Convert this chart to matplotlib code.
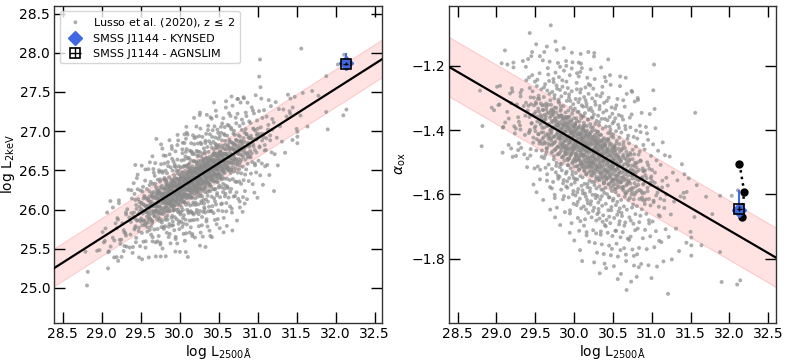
import numpy as np
import matplotlib
matplotlib.use("Agg")
import matplotlib.pyplot as plt

# ---------------- data ----------------
# Lusso et al. (2020) sample, z <= 2 : log L2500 and alpha_ox (estimated from the right panel)
lusso_luv = [
    28.79, 28.81, 28.82, 28.94, 28.97, 29.01, 29.04, 29.08, 29.09, 29.11, 29.14, 29.16, 29.19, 29.21,
    29.22, 29.20, 29.23, 29.25, 29.31, 29.29, 29.31, 29.29, 29.28, 29.38, 29.42, 29.43, 29.46, 29.45,
    29.56, 29.57, 29.40, 29.65, 29.70, 29.76, 29.82, 29.90, 29.97, 30.06, 30.08, 30.26, 30.44, 30.41,
    30.74, 31.02, 31.03, 30.82, 31.56, 31.90, 32.10, 32.14, 31.88, 31.64, 31.51, 31.51, 31.51, 31.50,
    31.21, 31.70, 31.88, 32.03, 31.78, 32.11, 31.42, 31.58, 31.55, 31.45, 31.41,
    29.047, 29.083, 29.026, 29.068,
    29.113, 29.176, 29.142, 29.158, 29.191,
    29.207, 29.238, 29.264, 29.219, 29.281, 29.253,
    29.304, 29.327, 29.319, 29.352, 29.341, 29.368, 29.386, 29.373, 29.395, 29.312, 29.359, 29.381,
    29.403, 29.418, 29.429, 29.437, 29.446, 29.452, 29.461, 29.474, 29.483, 29.491,
    29.409, 29.425, 29.441, 29.466, 29.478, 29.497, 29.433, 29.488,
    29.502, 29.508, 29.514, 29.521, 29.527, 29.533, 29.538, 29.544, 29.549, 29.556,
    29.561, 29.567, 29.572, 29.578, 29.583, 29.589, 29.594, 29.598, 29.505, 29.517,
    29.529, 29.541, 29.553, 29.564, 29.575, 29.586, 29.512, 29.591,
    29.601, 29.606, 29.611, 29.615, 29.619, 29.624, 29.628, 29.633, 29.637, 29.642,
    29.646, 29.651, 29.655, 29.659, 29.664, 29.668, 29.673, 29.677, 29.682, 29.686,
    29.691, 29.695, 29.699, 29.603, 29.613, 29.622, 29.631, 29.644, 29.653, 29.662,
    29.671, 29.684, 29.693, 29.617, 29.648, 29.679,
    29.702, 29.705, 29.709, 29.712, 29.716, 29.719, 29.723, 29.726, 29.730, 29.733,
    29.737, 29.740, 29.744, 29.747, 29.751, 29.754, 29.758, 29.761, 29.765, 29.768,
    29.772, 29.775, 29.779, 29.782, 29.786, 29.789, 29.793, 29.796, 29.799, 29.707,
    29.714, 29.721, 29.735, 29.742, 29.749, 29.756, 29.763, 29.770, 29.777, 29.784,
    29.791, 29.728, 29.752, 29.774,
    29.801, 29.804, 29.807, 29.810, 29.813, 29.816, 29.819, 29.822, 29.825, 29.828,
    29.831, 29.834, 29.837, 29.840, 29.843, 29.846, 29.849, 29.852, 29.855, 29.858,
    29.861, 29.864, 29.867, 29.870, 29.873, 29.876, 29.879, 29.882, 29.885, 29.888,
    29.891, 29.894, 29.897, 29.899, 29.803, 29.812, 29.821, 29.833, 29.842, 29.851,
    29.862, 29.871, 29.883, 29.892, 29.806, 29.818, 29.829, 29.847, 29.859, 29.868,
    29.877, 29.889,
    29.900, 29.903, 29.905, 29.908, 29.910, 29.913, 29.915, 29.918, 29.920, 29.923,
    29.925, 29.928, 29.930, 29.933, 29.935, 29.938, 29.940, 29.943, 29.945, 29.948,
    29.950, 29.953, 29.955, 29.958, 29.960, 29.963, 29.965, 29.968, 29.970, 29.973,
    29.975, 29.978, 29.980, 29.983, 29.985, 29.988, 29.990, 29.993, 29.995, 29.998,
    29.902, 29.911, 29.922, 29.931, 29.944, 29.952, 29.961, 29.972, 29.981, 29.992,
    29.907, 29.919, 29.936, 29.947, 29.966, 29.977, 29.986, 29.997,
    30.001, 30.004, 30.006, 30.009, 30.011, 30.014, 30.016, 30.019, 30.021, 30.024,
    30.026, 30.029, 30.031, 30.034, 30.036, 30.039, 30.041, 30.044, 30.046, 30.049,
    30.051, 30.054, 30.056, 30.059, 30.061, 30.064, 30.066, 30.069, 30.071, 30.074,
    30.076, 30.079, 30.081, 30.084, 30.086, 30.089, 30.091, 30.094, 30.096, 30.099,
    30.003, 30.012, 30.022, 30.033, 30.042, 30.053, 30.062, 30.073, 30.082, 30.093,
    30.007, 30.017, 30.028, 30.038, 30.048, 30.058, 30.068, 30.078, 30.088, 30.098,
    30.045, 30.085,
    30.102, 30.105, 30.107, 30.110, 30.112, 30.115, 30.117, 30.120, 30.122, 30.125,
    30.127, 30.130, 30.132, 30.135, 30.137, 30.140, 30.142, 30.145, 30.147, 30.150,
    30.152, 30.155, 30.157, 30.160, 30.162, 30.165, 30.167, 30.170, 30.172, 30.175,
    30.177, 30.180, 30.182, 30.185, 30.187, 30.190, 30.192, 30.195, 30.197, 30.199,
    30.101, 30.109, 30.118, 30.128, 30.139, 30.148, 30.158, 30.168, 30.179, 30.188,
    30.104, 30.114, 30.124, 30.134, 30.144, 30.154, 30.164, 30.174, 30.184, 30.194,
    30.121, 30.141, 30.161, 30.181,
    30.201, 30.203, 30.206, 30.208, 30.211, 30.213, 30.216, 30.218, 30.221, 30.223,
    30.226, 30.228, 30.231, 30.233, 30.236, 30.238, 30.241, 30.243, 30.246, 30.248,
    30.251, 30.253, 30.256, 30.258, 30.261, 30.263, 30.266, 30.268, 30.271, 30.273,
    30.276, 30.278, 30.281, 30.283, 30.286, 30.288, 30.291, 30.293, 30.296, 30.298,
    30.205, 30.214, 30.224, 30.234, 30.244, 30.254, 30.264, 30.274, 30.284, 30.294,
    30.209, 30.219, 30.229, 30.239, 30.249, 30.259, 30.269, 30.279, 30.289, 30.299,
    30.217, 30.237, 30.257, 30.277,
    30.300, 30.302, 30.305, 30.307, 30.310, 30.312, 30.315, 30.317, 30.320, 30.322,
    30.325, 30.327, 30.330, 30.332, 30.335, 30.337, 30.340, 30.342, 30.345, 30.347,
    30.350, 30.352, 30.355, 30.357, 30.360, 30.362, 30.365, 30.367, 30.370, 30.372,
    30.375, 30.377, 30.380, 30.382, 30.385, 30.387, 30.390, 30.392, 30.395, 30.397,
    30.304, 30.313, 30.323, 30.333, 30.343, 30.353, 30.363, 30.373, 30.383, 30.393,
    30.308, 30.318, 30.328, 30.338, 30.348, 30.358, 30.368, 30.378, 30.388, 30.398,
    30.331, 30.361,
    30.401, 30.404, 30.406, 30.409, 30.411, 30.414, 30.416, 30.419, 30.421, 30.424,
    30.426, 30.429, 30.431, 30.434, 30.436, 30.439, 30.441, 30.444, 30.446, 30.449,
    30.451, 30.454, 30.456, 30.459, 30.461, 30.464, 30.466, 30.469, 30.471, 30.474,
    30.476, 30.479, 30.481, 30.484, 30.486, 30.489, 30.491, 30.494, 30.496, 30.499,
    30.403, 30.413, 30.423, 30.433, 30.443, 30.453, 30.463, 30.473, 30.483, 30.493,
    30.408, 30.428, 30.448, 30.468, 30.488, 30.418, 30.458, 30.478,
    30.502, 30.505, 30.508, 30.511, 30.514, 30.517, 30.520, 30.523, 30.526, 30.529,
    30.532, 30.535, 30.538, 30.541, 30.544, 30.547, 30.550, 30.553, 30.556, 30.559,
    30.562, 30.565, 30.568, 30.571, 30.574, 30.577, 30.580, 30.583, 30.586, 30.589,
    30.592, 30.595, 30.598, 30.503, 30.513, 30.524, 30.536, 30.545, 30.557, 30.566,
    30.578, 30.587, 30.597, 30.509, 30.531, 30.552, 30.573, 30.594, 30.519, 30.541,
    30.563, 30.584,
    30.602, 30.606, 30.609, 30.613, 30.617, 30.620, 30.624, 30.627, 30.631, 30.635,
    30.638, 30.642, 30.645, 30.649, 30.652, 30.656, 30.660, 30.663, 30.667, 30.670,
    30.674, 30.678, 30.681, 30.685, 30.688, 30.692, 30.695, 30.699, 30.604, 30.615,
    30.626, 30.637, 30.647, 30.658, 30.668, 30.679, 30.690, 30.611, 30.633, 30.654,
    30.676, 30.697, 30.622, 30.665,
    30.703, 30.707, 30.712, 30.716, 30.720, 30.725, 30.729, 30.733, 30.738, 30.742,
    30.746, 30.751, 30.755, 30.759, 30.764, 30.768, 30.772, 30.777, 30.781, 30.785,
    30.790, 30.794, 30.798, 30.709, 30.722, 30.735, 30.748, 30.761, 30.774, 30.787,
    30.718, 30.744, 30.770, 30.796, 30.731, 30.757,
    30.804, 30.809, 30.815, 30.820, 30.826, 30.831, 30.837, 30.842, 30.848, 30.853,
    30.859, 30.864, 30.870, 30.875, 30.881, 30.886, 30.892, 30.897, 30.807, 30.823,
    30.839, 30.856, 30.872, 30.889, 30.812, 30.846, 30.878, 30.834,
    30.903, 30.908, 30.914, 30.919, 30.925, 30.931, 30.936, 30.942, 30.947, 30.953,
    30.958, 30.964, 30.969, 30.975, 30.981, 30.986, 30.992, 30.997, 30.911, 30.939,
    30.967, 30.989,
    31.004, 31.011, 31.018, 31.025, 31.033, 31.040, 31.047, 31.054, 31.061, 31.068,
    31.075, 31.082, 31.089, 31.096, 31.037,
    31.106, 31.115, 31.124, 31.133, 31.142, 31.151, 31.161, 31.170, 31.179, 31.188,
    31.207, 31.219, 31.232, 31.246, 31.259, 31.273, 31.288,
    31.312, 31.331, 31.352, 31.371, 31.389,
    31.418, 31.447, 31.476,
]
lusso_aox = [
    -1.277, -1.450, -1.387, -1.330, -1.338, -1.265, -1.320, -1.470, -1.390, -1.152, -1.343, -1.364, -1.457, -1.483,
    -1.205, -1.270, -1.388, -1.395, -1.398, -1.374, -1.284, -1.441, -1.462, -1.203, -1.236, -1.098, -1.157, -1.170,
    -1.170, -1.436, -1.488, -1.140, -1.074, -1.124, -1.203, -1.200, -1.208, -1.190, -1.219, -1.160, -1.180, -1.248,
    -1.278, -1.276, -1.196, -1.300, -1.346, -1.872, -1.880, -1.867, -1.779, -1.758, -1.758, -1.790, -1.734, -1.716,
    -1.909, -1.607, -1.604, -1.604, -1.661, -1.587, -1.537, -1.571, -1.670, -1.592, -1.595,
    -1.262, -1.392, -1.322, -1.192,
    -1.376, -1.286, -1.196, -1.446, -1.316,
    -1.280, -1.410, -1.320, -1.190, -1.360, -1.480,
    -1.385, -1.275, -1.455, -1.325, -1.185, -1.415, -1.245, -1.355, -1.515, -1.295, -1.475, -1.315,
    -1.339, -1.409, -1.269, -1.479, -1.319, -1.379, -1.229, -1.439, -1.299, -1.519,
    -1.179, -1.359, -1.459, -1.279, -1.569, -1.249, -1.399, -1.349,
    -1.403, -1.313, -1.463, -1.263, -1.373, -1.513, -1.333, -1.293, -1.433, -1.223,
    -1.553, -1.353, -1.383, -1.273, -1.483, -1.323, -1.443, -1.183, -1.343, -1.593,
    -1.243, -1.413, -1.303, -1.523, -1.363, -1.463, -1.133, -1.393,
    -1.337, -1.407, -1.297, -1.487, -1.377, -1.437, -1.257, -1.517, -1.357, -1.317,
    -1.467, -1.557, -1.277, -1.387, -1.417, -1.227, -1.507, -1.347, -1.447, -1.187,
    -1.577, -1.307, -1.397, -1.617, -1.267, -1.367, -1.477, -1.327, -1.537, -1.207,
    -1.427, -1.287, -1.647, -1.157, -1.457, -1.247,
    -1.411, -1.321, -1.471, -1.371, -1.521, -1.281, -1.391, -1.441, -1.561, -1.341,
    -1.251, -1.491, -1.421, -1.301, -1.601, -1.361, -1.461, -1.221, -1.531, -1.381,
    -1.331, -1.501, -1.641, -1.271, -1.401, -1.451, -1.191, -1.551, -1.311, -1.431,
    -1.581, -1.351, -1.241, -1.481, -1.291, -1.671, -1.371, -1.511, -1.151, -1.411,
    -1.541, -1.341, -1.611, -1.261,
    -1.385, -1.475, -1.315, -1.425, -1.545, -1.355, -1.275, -1.505, -1.415, -1.455,
    -1.335, -1.585, -1.295, -1.395, -1.525, -1.445, -1.245, -1.365, -1.485, -1.615,
    -1.405, -1.325, -1.555, -1.215, -1.435, -1.495, -1.375, -1.655, -1.285, -1.465,
    -1.345, -1.535, -1.185, -1.575, -1.305, -1.425, -1.695, -1.355, -1.505, -1.265,
    -1.385, -1.605, -1.405, -1.475, -1.235, -1.515, -1.325, -1.445, -1.565, -1.145,
    -1.455, -1.365,
    -1.449, -1.359, -1.529, -1.309, -1.419, -1.489, -1.579, -1.389, -1.269, -1.459,
    -1.509, -1.339, -1.609, -1.429, -1.299, -1.549, -1.379, -1.439, -1.229, -1.649,
    -1.399, -1.479, -1.519, -1.329, -1.369, -1.569, -1.409, -1.689, -1.279, -1.469,
    -1.349, -1.539, -1.189, -1.499, -1.599, -1.419, -1.319, -1.449, -1.629, -1.389,
    -1.249, -1.559, -1.359, -1.489, -1.719, -1.309, -1.429, -1.159, -1.529, -1.589,
    -1.379, -1.509, -1.289, -1.659, -1.409, -1.459, -1.339, -1.549,
    -1.403, -1.513, -1.433, -1.563, -1.333, -1.383, -1.473, -1.603, -1.303, -1.533,
    -1.443, -1.363, -1.493, -1.633, -1.273, -1.423, -1.553, -1.343, -1.453, -1.673,
    -1.393, -1.583, -1.313, -1.483, -1.233, -1.523, -1.713, -1.373, -1.413, -1.613,
    -1.463, -1.283, -1.543, -1.353, -1.503, -1.193, -1.643, -1.433, -1.573, -1.323,
    -1.743, -1.383, -1.483, -1.253, -1.593, -1.413, -1.523, -1.303, -1.683, -1.363,
    -1.453, -1.553, -1.403, -1.223, -1.623, -1.343, -1.493, -1.773, -1.273, -1.423,
    -1.513, -1.163,
    -1.507, -1.427, -1.357, -1.547, -1.457, -1.597, -1.327, -1.397, -1.477, -1.637,
    -1.377, -1.297, -1.527, -1.567, -1.437, -1.347, -1.677, -1.497, -1.267, -1.407,
    -1.607, -1.447, -1.537, -1.317, -1.717, -1.387, -1.467, -1.237, -1.577, -1.417,
    -1.627, -1.367, -1.487, -1.657, -1.287, -1.517, -1.337, -1.747, -1.427, -1.557,
    -1.207, -1.587, -1.397, -1.697, -1.457, -1.307, -1.537, -1.617, -1.367, -1.257,
    -1.807, -1.477, -1.357, -1.517, -1.417, -1.647, -1.327, -1.567, -1.157, -1.497,
    -1.387, -1.597, -1.727, -1.447,
    -1.411, -1.511, -1.581, -1.381, -1.461, -1.631, -1.331, -1.541, -1.441, -1.481,
    -1.671, -1.361, -1.561, -1.301, -1.421, -1.601, -1.501, -1.391, -1.711, -1.271,
    -1.471, -1.531, -1.351, -1.641, -1.431, -1.571, -1.241, -1.751, -1.401, -1.491,
    -1.321, -1.611, -1.451, -1.551, -1.681, -1.371, -1.291, -1.521, -1.781, -1.411,
    -1.591, -1.211, -1.511, -1.341, -1.651, -1.461, -1.561, -1.381, -1.721, -1.441,
    -1.261, -1.621, -1.531, -1.361, -1.481, -1.811, -1.311, -1.431, -1.581, -1.661,
    -1.391, -1.501, -1.171, -1.601,
    -1.515, -1.405, -1.605, -1.465, -1.355, -1.555, -1.645, -1.435, -1.485, -1.385,
    -1.575, -1.675, -1.325, -1.505, -1.445, -1.615, -1.295, -1.535, -1.715, -1.415,
    -1.475, -1.585, -1.365, -1.755, -1.455, -1.635, -1.265, -1.545, -1.395, -1.495,
    -1.665, -1.345, -1.565, -1.785, -1.425, -1.315, -1.595, -1.525, -1.235, -1.695,
    -1.465, -1.625, -1.375, -1.555, -1.725, -1.435, -1.285, -1.585, -1.495, -1.815,
    -1.405, -1.655, -1.335, -1.515, -1.205, -1.605, -1.685, -1.445, -1.565, -1.365,
    -1.845, -1.475,
    -1.449, -1.579, -1.489, -1.629, -1.389, -1.529, -1.339, -1.679, -1.429, -1.549,
    -1.599, -1.469, -1.369, -1.719, -1.499, -1.409, -1.649, -1.509, -1.299, -1.569,
    -1.759, -1.439, -1.609, -1.359, -1.539, -1.479, -1.689, -1.399, -1.259, -1.789,
    -1.519, -1.419, -1.639, -1.329, -1.559, -1.589, -1.459, -1.729, -1.379, -1.619,
    -1.489, -1.829, -1.309, -1.529, -1.429, -1.669, -1.229, -1.579, -1.509, -1.349,
    -1.699, -1.459, -1.609, -1.409, -1.769, -1.549, -1.389, -1.649,
    -1.553, -1.423, -1.613, -1.493, -1.373, -1.673, -1.523, -1.453, -1.583, -1.333,
    -1.713, -1.473, -1.633, -1.403, -1.543, -1.753, -1.433, -1.503, -1.663, -1.303,
    -1.573, -1.793, -1.383, -1.603, -1.483, -1.353, -1.693, -1.533, -1.443, -1.643,
    -1.263, -1.563, -1.733, -1.413, -1.823, -1.463, -1.593, -1.323, -1.623, -1.513,
    -1.393, -1.683, -1.773, -1.493, -1.363, -1.553, -1.653, -1.233, -1.453, -1.713,
    -1.863, -1.423,
    -1.497, -1.617, -1.407, -1.557, -1.667, -1.457, -1.517, -1.717, -1.367, -1.587,
    -1.437, -1.637, -1.767, -1.487, -1.327, -1.537, -1.687, -1.397, -1.597, -1.807,
    -1.467, -1.287, -1.647, -1.567, -1.427, -1.737, -1.507, -1.617, -1.847, -1.357,
    -1.547, -1.447, -1.697, -1.387, -1.787, -1.527, -1.477, -1.657, -1.307, -1.607,
    -1.897, -1.417, -1.577, -1.237,
    -1.561, -1.441, -1.671, -1.491, -1.611, -1.391, -1.731, -1.521, -1.581, -1.351,
    -1.641, -1.771, -1.461, -1.531, -1.691, -1.421, -1.821, -1.601, -1.311, -1.501,
    -1.661, -1.551, -1.401, -1.741, -1.471, -1.871, -1.281, -1.631, -1.511, -1.711,
    -1.361, -1.591, -1.791, -1.451, -1.681, -1.541,
    -1.516, -1.636, -1.426, -1.706, -1.556, -1.476, -1.766, -1.586, -1.386, -1.666,
    -1.496, -1.816, -1.346, -1.616, -1.546, -1.736, -1.446, -1.566, -1.856, -1.306,
    -1.686, -1.406, -1.646, -1.526, -1.786, -1.466, -1.596, -1.826,
    -1.620, -1.460, -1.710, -1.540, -1.390, -1.660, -1.770, -1.500, -1.590, -1.430,
    -1.820, -1.680, -1.520, -1.350, -1.730, -1.570, -1.480, -1.860, -1.630, -1.410,
    -1.690, -1.550,
    -1.524, -1.684, -1.444, -1.624, -1.764, -1.564, -1.394, -1.714, -1.494, -1.824,
    -1.594, -1.464, -1.664, -1.744, -1.334,
    -1.668, -1.508, -1.748, -1.578, -1.438, -1.808, -1.618, -1.478, -1.708, -1.548,
    -1.572, -1.732, -1.482, -1.662, -1.802, -1.532, -1.622,
    -1.706, -1.556, -1.776, -1.606, -1.506,
    -1.610, -1.750, -1.550,
]

# densest part of the cloud, close to the relation
core_luv = [
    29.413, 29.427, 29.441, 29.455, 29.468, 29.476, 29.484, 29.493,
    29.504, 29.511, 29.519, 29.526, 29.534, 29.541, 29.549, 29.556, 29.564, 29.571, 29.579, 29.586, 29.594, 29.599,
    29.603, 29.608, 29.613, 29.618, 29.622, 29.627, 29.633, 29.638, 29.643, 29.648,
    29.652, 29.657, 29.662, 29.667, 29.672, 29.677, 29.683, 29.688, 29.693, 29.698,
    29.702, 29.705, 29.709, 29.713, 29.717, 29.721, 29.725, 29.729, 29.733, 29.737, 29.741, 29.745, 29.749,
    29.753, 29.757, 29.761, 29.765, 29.769, 29.773, 29.777, 29.781, 29.785, 29.789, 29.793, 29.796, 29.799,
    29.801, 29.804, 29.807, 29.810, 29.813, 29.816, 29.819, 29.822, 29.825, 29.828, 29.832, 29.835, 29.838,
    29.841, 29.844, 29.847, 29.850, 29.853, 29.856, 29.859, 29.862, 29.865, 29.868, 29.871, 29.874, 29.877,
    29.880, 29.883, 29.886, 29.889, 29.893, 29.897,
    29.901, 29.904, 29.906, 29.909, 29.912, 29.914, 29.917, 29.920, 29.923, 29.926, 29.929, 29.931,
    29.934, 29.937, 29.940, 29.943, 29.946, 29.949, 29.952, 29.955, 29.958, 29.961, 29.964, 29.967,
    29.970, 29.973, 29.976, 29.979, 29.982, 29.985, 29.988, 29.991, 29.994, 29.996, 29.998, 29.999,
    30.002, 30.004, 30.007, 30.009, 30.012, 30.014, 30.017, 30.019, 30.022, 30.025, 30.028, 30.031, 30.034,
    30.036, 30.039, 30.042, 30.045, 30.048, 30.051, 30.054, 30.057, 30.060, 30.063, 30.066, 30.069, 30.072,
    30.075, 30.078, 30.081, 30.084, 30.087, 30.090, 30.092, 30.094, 30.096, 30.097, 30.098, 30.099,
    30.101, 30.103, 30.106, 30.108, 30.111, 30.113, 30.116, 30.118, 30.121, 30.123, 30.126, 30.128,
    30.131, 30.133, 30.136, 30.138, 30.141, 30.143, 30.146, 30.148, 30.151, 30.153, 30.156, 30.158,
    30.161, 30.163, 30.166, 30.168, 30.171, 30.173, 30.176, 30.178, 30.181, 30.183, 30.186, 30.188,
    30.191, 30.193, 30.196, 30.198,
    30.201, 30.203, 30.206, 30.208, 30.211, 30.213, 30.216, 30.218, 30.221, 30.223, 30.226, 30.228,
    30.231, 30.233, 30.236, 30.238, 30.241, 30.243, 30.246, 30.248, 30.251, 30.253, 30.256, 30.258,
    30.261, 30.263, 30.266, 30.268, 30.271, 30.273, 30.276, 30.278, 30.281, 30.283, 30.286, 30.288,
    30.291, 30.293, 30.296, 30.298,
    30.302, 30.304, 30.307, 30.309, 30.312, 30.314, 30.317, 30.319, 30.322, 30.324, 30.327,
    30.332, 30.334, 30.337, 30.339, 30.342, 30.344, 30.347, 30.349, 30.352, 30.354, 30.357,
    30.361, 30.363, 30.366, 30.368, 30.371, 30.373, 30.376, 30.378, 30.381, 30.383, 30.386, 30.388,
    30.391, 30.393, 30.396, 30.398,
    30.401, 30.404, 30.406, 30.409, 30.412, 30.414, 30.417, 30.420, 30.423, 30.426, 30.429,
    30.432, 30.435, 30.438, 30.441, 30.444, 30.447, 30.450, 30.453, 30.456, 30.459,
    30.462, 30.465, 30.468, 30.471, 30.474, 30.477, 30.480, 30.483, 30.486, 30.489, 30.492, 30.494,
    30.496, 30.498, 30.499,
    30.502, 30.505, 30.508, 30.511, 30.514, 30.517, 30.520, 30.523, 30.526, 30.529,
    30.532, 30.535, 30.538, 30.541, 30.544, 30.547, 30.550, 30.553, 30.556, 30.559,
    30.562, 30.565, 30.568, 30.571, 30.574, 30.577, 30.580, 30.583, 30.586, 30.589, 30.593, 30.597,
    30.603, 30.607, 30.611, 30.615, 30.619, 30.623, 30.627, 30.631, 30.635, 30.639, 30.643, 30.647, 30.651,
    30.655, 30.659, 30.663, 30.667, 30.671, 30.675, 30.679, 30.683, 30.687, 30.691, 30.694, 30.697, 30.699,
    30.704, 30.709, 30.714, 30.719, 30.724, 30.729, 30.734, 30.739, 30.744, 30.749,
    30.754, 30.759, 30.764, 30.769, 30.774, 30.779, 30.784, 30.789, 30.794, 30.798,
    30.806, 30.813, 30.820, 30.827, 30.834, 30.841, 30.848, 30.855, 30.862, 30.869, 30.876, 30.883, 30.890, 30.897,
    30.905, 30.915, 30.925, 30.935, 30.945, 30.955, 30.965, 30.975, 30.985, 30.995,
    31.008, 31.024, 31.041, 31.058, 31.075, 31.091,
    31.112, 31.137, 31.162, 31.188,
]
core_aox = [
    -1.324, -1.404, -1.298, -1.378, -1.353, -1.423, -1.323, -1.393,
    -1.388, -1.318, -1.428, -1.358, -1.302, -1.412, -1.342, -1.442, -1.377, -1.317, -1.407, -1.357, -1.427, -1.337,
    -1.371, -1.422, -1.322, -1.392, -1.352, -1.442, -1.366, -1.416, -1.336, -1.456,
    -1.386, -1.346, -1.411, -1.321, -1.441, -1.381, -1.421, -1.361, -1.401, -1.341,
    -1.426, -1.356, -1.406, -1.336, -1.446, -1.376, -1.466, -1.396, -1.350, -1.420, -1.370, -1.440, -1.330,
    -1.460, -1.390, -1.435, -1.365, -1.415, -1.345, -1.455, -1.385, -1.475, -1.375, -1.425, -1.355, -1.405,
    -1.390, -1.450, -1.360, -1.420, -1.380, -1.470, -1.400, -1.440, -1.340, -1.430, -1.374, -1.464, -1.414,
    -1.354, -1.484, -1.394, -1.424, -1.384, -1.454, -1.364, -1.439, -1.409, -1.479, -1.379, -1.449, -1.359,
    -1.419, -1.469, -1.389, -1.429, -1.399, -1.459,
    -1.433, -1.384, -1.474, -1.404, -1.454, -1.364, -1.424, -1.494, -1.394, -1.444, -1.374, -1.468,
    -1.418, -1.488, -1.358, -1.438, -1.398, -1.458, -1.408, -1.478, -1.388, -1.433, -1.453, -1.373,
    -1.473, -1.423, -1.503, -1.403, -1.443, -1.383, -1.463, -1.413, -1.493, -1.393, -1.453, -1.363,
    -1.408, -1.458, -1.388, -1.488, -1.438, -1.418, -1.498, -1.378, -1.448, -1.478, -1.398, -1.472, -1.432,
    -1.512, -1.372, -1.462, -1.412, -1.492, -1.442, -1.392, -1.452, -1.427, -1.487, -1.407, -1.477, -1.387,
    -1.507, -1.437, -1.467, -1.417, -1.497, -1.447, -1.397, -1.457, -1.427, -1.517, -1.407, -1.477,
    -1.472, -1.412, -1.502, -1.442, -1.482, -1.392, -1.452, -1.512, -1.422, -1.462, -1.402, -1.492,
    -1.436, -1.526, -1.386, -1.476, -1.426, -1.506, -1.446, -1.486, -1.416, -1.466, -1.406, -1.516,
    -1.461, -1.441, -1.501, -1.401, -1.481, -1.431, -1.511, -1.451, -1.491, -1.421, -1.531, -1.441,
    -1.471, -1.411, -1.501, -1.461,
    -1.456, -1.506, -1.416, -1.486, -1.436, -1.526, -1.466, -1.406, -1.496, -1.446, -1.516, -1.426,
    -1.481, -1.401, -1.541, -1.461, -1.501, -1.431, -1.491, -1.441, -1.521, -1.471, -1.421, -1.511,
    -1.455, -1.535, -1.415, -1.485, -1.445, -1.505, -1.465, -1.525, -1.435, -1.495, -1.425, -1.545,
    -1.475, -1.455, -1.515, -1.445,
    -1.510, -1.440, -1.490, -1.420, -1.530, -1.460, -1.550, -1.480, -1.430, -1.500, -1.450,
    -1.524, -1.474, -1.544, -1.414, -1.494, -1.454, -1.514, -1.464, -1.534, -1.434, -1.484,
    -1.509, -1.449, -1.529, -1.479, -1.549, -1.429, -1.499, -1.459, -1.519, -1.469, -1.559, -1.439,
    -1.489, -1.539, -1.449, -1.509,
    -1.474, -1.524, -1.444, -1.544, -1.494, -1.464, -1.554, -1.434, -1.504, -1.484, -1.534,
    -1.458, -1.518, -1.428, -1.568, -1.478, -1.528, -1.468, -1.548, -1.498, -1.448,
    -1.513, -1.493, -1.543, -1.463, -1.563, -1.443, -1.523, -1.483, -1.533, -1.473, -1.553, -1.503,
    -1.453, -1.513, -1.573,
    -1.518, -1.468, -1.558, -1.488, -1.538, -1.448, -1.508, -1.568, -1.478, -1.528,
    -1.462, -1.552, -1.502, -1.582, -1.442, -1.522, -1.482, -1.542, -1.492, -1.562,
    -1.477, -1.517, -1.537, -1.457, -1.557, -1.507, -1.577, -1.487, -1.527, -1.467, -1.547, -1.497,
    -1.492, -1.562, -1.462, -1.532, -1.512, -1.582, -1.482, -1.546, -1.476, -1.576, -1.526, -1.506, -1.556,
    -1.456, -1.596, -1.521, -1.551, -1.491, -1.571, -1.501, -1.591, -1.531, -1.481, -1.541, -1.511, -1.561,
    -1.556, -1.496, -1.586, -1.526, -1.566, -1.476, -1.540, -1.600, -1.510, -1.550,
    -1.490, -1.580, -1.525, -1.615, -1.475, -1.565, -1.535, -1.595, -1.505, -1.575,
    -1.530, -1.590, -1.500, -1.570, -1.524, -1.614, -1.554, -1.494, -1.589, -1.549, -1.609, -1.519, -1.569, -1.529,
    -1.595, -1.525, -1.615, -1.549, -1.579, -1.509, -1.614, -1.564, -1.634, -1.544,
    -1.559, -1.619, -1.532, -1.603, -1.578, -1.638,
    -1.613, -1.557, -1.642, -1.600,
]

# alpha_ox definition: alpha_ox = 0.3838 * (log L2keV - log L2500)
aox_coeff = 0.3838

# best-fit relation log L2keV = slope * (log L2500 - 30) + norm, with dispersion
fit_slope = 0.633
fit_norm = 26.274
fit_scatter = 0.24

# SMSS J1144
smss_luv = 32.13
kynsed_lx, kynsed_lx_up = 27.87, 0.13
agnslim_lx = 27.86
kynsed_aox, kynsed_aox_up = -1.647, 0.06
agnslim_aox = -1.644
other_luv = [32.13, 32.19, 32.16]
other_aox = [-1.504, -1.591, -1.670]

# ---------------- plot ----------------
n1 = min(len(lusso_luv), len(lusso_aox))
n2 = min(len(core_luv), len(core_aox))
luv = np.concatenate([np.array(lusso_luv[:n1]), np.array(core_luv[:n2])])
aox = np.concatenate([np.array(lusso_aox[:n1]), np.array(core_aox[:n2])])
lx = luv + aox / aox_coeff

W, H = 789, 361
fig = plt.figure(figsize=(W / 100, H / 100), dpi=100)
bottom = 1 - 322.5 / H
height = (322.5 - 5.7) / H
ax1 = fig.add_axes([54.3 / W, bottom, (382.3 - 54.3) / W, height])
ax2 = fig.add_axes([449.0 / W, bottom, (776.0 - 449.0) / W, height])

xlim = (28.39, 32.6)
xx = np.linspace(xlim[0], xlim[1], 50)
line_lx = fit_slope * (xx - 30) + fit_norm
line_aox = aox_coeff * (line_lx - xx)

scat_kw = dict(s=8, color="#8a8a8a", alpha=0.7, edgecolors="none", zorder=2)
band_kw = dict(facecolor="#ff0000", alpha=0.11, edgecolor="none", zorder=1)
bandedge_kw = dict(color="#ff9a9a", lw=0.7, alpha=0.5, zorder=1)

# left panel
ax1.fill_between(xx, line_lx - fit_scatter, line_lx + fit_scatter, **band_kw)
ax1.plot(xx, line_lx - fit_scatter, **bandedge_kw)
ax1.plot(xx, line_lx + fit_scatter, **bandedge_kw)
ax1.scatter(luv, lx, label=r"Lusso et al. (2020), z$\,\leq\,$2", **scat_kw)
ax1.plot(xx, line_lx, color="black", lw=1.6, zorder=3)
ax1.errorbar([smss_luv], [kynsed_lx], yerr=[[0.0], [kynsed_lx_up]], xerr=0.03,
             fmt="D", color="royalblue", ms=7, elinewidth=1.5, capsize=0, zorder=5,
             label="SMSS J1144 - KYNSED")
ax1.errorbar([smss_luv], [agnslim_lx], yerr=0.02, xerr=0.03,
             fmt="s", mfc="none", mec="black", ecolor="black", ms=7, mew=1.2, elinewidth=1.0,
             capsize=0, zorder=6, label="SMSS J1144 - AGNSLIM")
ax1.set_xlim(*xlim)
ax1.set_ylim(24.56, 28.6)
ax1.set_yticks([25.0, 25.5, 26.0, 26.5, 27.0, 27.5, 28.0, 28.5])
ax1.set_ylabel(r"log L$_{\rm 2keV}$", fontsize=10, labelpad=2)
leg = ax1.legend(loc="upper left", fontsize=8, frameon=True, handletextpad=0.6,
                 borderpad=0.4, labelspacing=0.45, markerscale=1.0)
leg.get_frame().set_edgecolor("#cccccc")

# right panel
ax2.fill_between(xx, line_aox - aox_coeff * fit_scatter, line_aox + aox_coeff * fit_scatter, **band_kw)
ax2.plot(xx, line_aox - aox_coeff * fit_scatter, **bandedge_kw)
ax2.plot(xx, line_aox + aox_coeff * fit_scatter, **bandedge_kw)
ax2.scatter(luv, aox, **scat_kw)
ax2.plot(xx, line_aox, color="black", lw=1.6, zorder=3)
ax2.plot(other_luv, other_aox, ls=":", lw=1.8, color="black", marker="o", ms=5, zorder=4)
ax2.errorbar([smss_luv], [kynsed_aox], yerr=[[0.0], [kynsed_aox_up]], xerr=0.03,
             fmt="D", color="royalblue", ms=7, elinewidth=1.5, capsize=0, zorder=5)
ax2.errorbar([smss_luv], [agnslim_aox], yerr=0.008, xerr=0.03,
             fmt="s", mfc="none", mec="black", ecolor="black", ms=7, mew=1.2, elinewidth=1.0,
             capsize=0, zorder=6)
ax2.set_xlim(*xlim)
ax2.set_ylim(-1.998, -1.013)
ax2.set_yticks([-1.8, -1.6, -1.4, -1.2])
ax2.set_ylabel(r"$\alpha_{\rm ox}$", fontsize=10, labelpad=2)

for ax in (ax1, ax2):
    ax.set_xticks([28.5, 29.0, 29.5, 30.0, 30.5, 31.0, 31.5, 32.0, 32.5])
    ax.set_xlabel(r"log L$_{\rm 2500\AA}$", fontsize=10, labelpad=2)
    ax.tick_params(direction="in", top=True, right=True, length=8, width=1.0,
                   labelsize=10, colors="black", pad=3)
    for sp in ax.spines.values():
        sp.set_color("#333333")
        sp.set_linewidth(1.0)

fig.savefig("out.png", dpi=100)
